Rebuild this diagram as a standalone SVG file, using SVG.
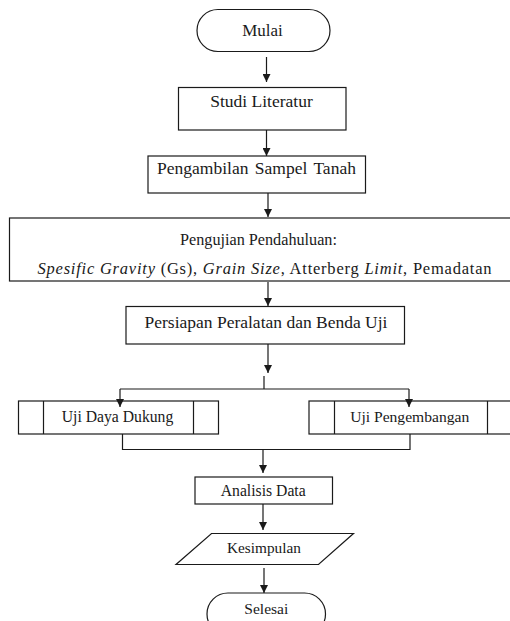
<svg xmlns="http://www.w3.org/2000/svg" width="510" height="621" viewBox="0 0 510 621">
<style>
.b{fill:#fff;stroke:#1a1a1a;stroke-width:1.2}
.l{fill:none;stroke:#1a1a1a;stroke-width:1.2}
.t{font-family:"Liberation Serif","Times New Roman",serif;fill:#1a1a1a;text-anchor:middle}
.a{fill:none;stroke:#1a1a1a;stroke-width:1.2;marker-end:url(#ah)}
</style>
<defs>
<marker id="ah" markerUnits="userSpaceOnUse" markerWidth="8" markerHeight="8" refX="8" refY="4" orient="auto">
<path d="M0,0 L8,4 L0,8 z" fill="#1a1a1a"/>
</marker>
</defs>
<rect width="510" height="621" fill="#fff"/>
<g id="mulai">
<rect class="b" x="197" y="9.5" width="133" height="42" rx="21"/>
<text class="t" x="262.5" y="36" font-size="17">Mulai</text>
</g>
<g id="studi">
<rect class="b" x="178.5" y="87.5" width="167.5" height="42.5"/>
<text class="t" x="261.5" y="107" font-size="17.5">Studi Literatur</text>
</g>
<g id="pengambilan">
<rect class="b" x="148" y="156" width="217.5" height="37"/>
<text class="t" x="256.5" y="173.5" font-size="17.5" word-spacing="2">Pengambilan Sampel Tanah</text>
</g>
<g id="pengujian">
<rect class="b" x="9.5" y="218" width="505" height="63"/>
<text class="t" x="258.5" y="245" font-size="16.2">Pengujian Pendahuluan:</text>
<text class="t" x="264.5" y="274" font-size="16.5" textLength="454" lengthAdjust="spacing"><tspan font-style="italic">Spesific Gravity</tspan> (Gs), <tspan font-style="italic">Grain Size</tspan>, Atterberg <tspan font-style="italic">Limit</tspan>, Pemadatan</text>
</g>
<g id="persiapan">
<rect class="b" x="126" y="306.5" width="278.5" height="37.5"/>
<text class="t" x="266" y="327.5" font-size="17.5">Persiapan Peralatan dan Benda Uji</text>
</g>
<g id="uji-daya-dukung">
<rect class="b" x="18.5" y="401" width="200" height="33"/>
<line class="l" x1="43.5" y1="401" x2="43.5" y2="434"/>
<line class="l" x1="193.5" y1="401" x2="193.5" y2="434"/>
<text class="t" x="117.5" y="421.5" font-size="15.7">Uji Daya Dukung</text>
</g>
<g id="uji-pengembangan">
<rect class="b" x="309" y="401" width="203" height="33"/>
<line class="l" x1="334.5" y1="401" x2="334.5" y2="434"/>
<line class="l" x1="487.5" y1="401" x2="487.5" y2="434"/>
<text class="t" x="409.7" y="421.5" font-size="15.6">Uji Pengembangan</text>
</g>
<g id="analisis">
<rect class="b" x="195" y="477" width="137.5" height="27"/>
<text class="t" x="263.2" y="496" font-size="15.7">Analisis Data</text>
</g>
<g id="kesimpulan">
<polygon class="b" points="211.5,533.5 353.5,533.5 318.5,564.5 176,564.5"/>
<text class="t" x="264" y="552.5" font-size="15.3">Kesimpulan</text>
</g>
<g id="selesai">
<rect class="b" x="207" y="593" width="118.5" height="42" rx="21"/>
<text class="t" x="266.3" y="613.5" font-size="15.5">Selesai</text>
</g>
<g id="connectors">
<line class="a" x1="266.5" y1="57" x2="266.5" y2="82"/>
<line class="a" x1="266.5" y1="130" x2="266.5" y2="156"/>
<line class="a" x1="268" y1="193" x2="268" y2="217"/>
<line class="a" x1="268" y1="282" x2="268" y2="306"/>
<line class="a" x1="268" y1="344" x2="268" y2="373"/>
<polyline class="l" points="264,376 264,389"/>
<polyline class="l" points="120,389 409,389"/>
<line class="a" x1="120" y1="389" x2="120" y2="407"/>
<line class="a" x1="409" y1="389" x2="409" y2="407"/>
<polyline class="l" points="122.5,434 122.5,449.5 410,449.5 410,434"/>
<line class="a" x1="263" y1="449.5" x2="263" y2="473"/>
<line class="a" x1="263" y1="504" x2="263" y2="530"/>
<line class="a" x1="264" y1="568" x2="264" y2="593"/>
</g>
</svg>
